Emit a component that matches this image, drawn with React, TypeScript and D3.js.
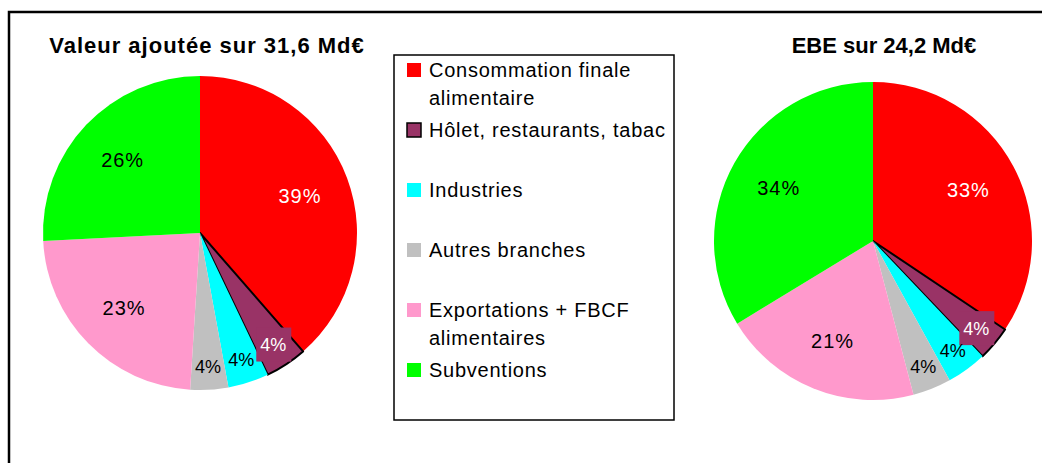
import * as d3 from "d3";

// categories shared by both pies
const categories = [
  "Consommation finale\nalimentaire",
  "Hôlet, restaurants, tabac",
  "Industries",
  "Autres branches",
  "Exportations + FBCF\nalimentaires",
  "Subventions",
];
const colors = ["#ff0000", "#993366", "#00ffff", "#c0c0c0", "#ff99cc", "#00ff00"];

// slice shares (%), and the labels printed on them
const vaValues = [38.6, 4.3, 4.2, 3.9, 23.2, 25.8];
const vaLabels = ["39%", "4%", "4%", "4%", "23%", "26%"];
const ebeValues = [34.4, 3.5, 4.1, 3.9, 20.4, 33.7];
const ebeLabels = ["33%", "4%", "4%", "4%", "21%", "34%"];

const FONT = "'Liberation Sans', Arial, sans-serif";
const whiteText = [true, true, false, false, false, false];

function Pie({
  cx,
  cy,
  r,
  values,
  labels,
}: {
  cx: number;
  cy: number;
  r: number;
  values: number[];
  labels: string[];
}) {
  const arcs = d3.pie<number>().sort(null)(values);
  const arc = d3.arc<d3.PieArcDatum<number>>().innerRadius(0).outerRadius(r);
  return (
    <g transform={`translate(${cx},${cy})`}>
      {arcs.map((a, i) => (
        <path
          key={i}
          d={arc(a) || ""}
          fill={colors[i]}
          stroke={i === 1 ? "#000" : "none"}
          strokeWidth={i === 1 ? 2 : 0}
          strokeLinejoin="round"
        />
      ))}
      {arcs.map((a, i) => {
        const small = a.value < 10;
        const lr = r * (small ? 0.85 : 0.68);
        const [lx, ly] = d3.arc<d3.PieArcDatum<number>>().innerRadius(lr).outerRadius(lr).centroid(a);
        return (
          <g key={i}>
            {i === 1 && (
              <rect x={lx - 17} y={ly - 17} width={35} height={34} fill={colors[1]} />
            )}
            <text
              x={lx}
              y={ly}
              dy="0.36em"
              textAnchor="middle"
              fontFamily={FONT}
              fontSize={small ? 18 : 20}
              letterSpacing={small ? 0 : 1}
              fill={whiteText[i] ? "#fff" : "#000"}
            >
              {labels[i]}
            </text>
          </g>
        );
      })}
    </g>
  );
}

export default function App() {
  return (
    <svg
      width={1042}
      height={463}
      style={{ position: "absolute", left: 0, top: 0, background: "#fff" }}
    >
      <rect x={9} y={12} width={1100} height={500} fill="#fff" stroke="#000" strokeWidth={2.5} />

      <text x={207} y={53} textAnchor="middle" fontFamily={FONT} fontWeight="bold" fontSize={22} letterSpacing={1}>
        Valeur ajoutée sur 31,6 Md€
      </text>
      <text x={884} y={53} textAnchor="middle" fontFamily={FONT} fontWeight="bold" fontSize={22}>
        EBE sur 24,2 Md€
      </text>

      <Pie cx={200} cy={233} r={157} values={vaValues} labels={vaLabels} />
      <Pie cx={873} cy={241} r={159} values={ebeValues} labels={ebeLabels} />

      {/* legend */}
      <rect x={394} y={55} width={280} height={365} fill="#fff" stroke="#000" strokeWidth={1.5} />
      {categories.map((c, i) => {
        const base = 77 + i * 60;
        return (
          <g key={c}>
            <rect
              x={407}
              y={base - 14}
              width={14}
              height={14}
              fill={colors[i]}
              stroke={i === 1 ? "#000" : "none"}
              strokeWidth={i === 1 ? 1.5 : 0}
            />
            <text fontFamily={FONT} fontSize={20} letterSpacing={0.75} fill="#000">
              {c.split("\n").map((line, j) => (
                <tspan key={j} x={429} y={base + j * 28}>
                  {line}
                </tspan>
              ))}
            </text>
          </g>
        );
      })}
    </svg>
  );
}
